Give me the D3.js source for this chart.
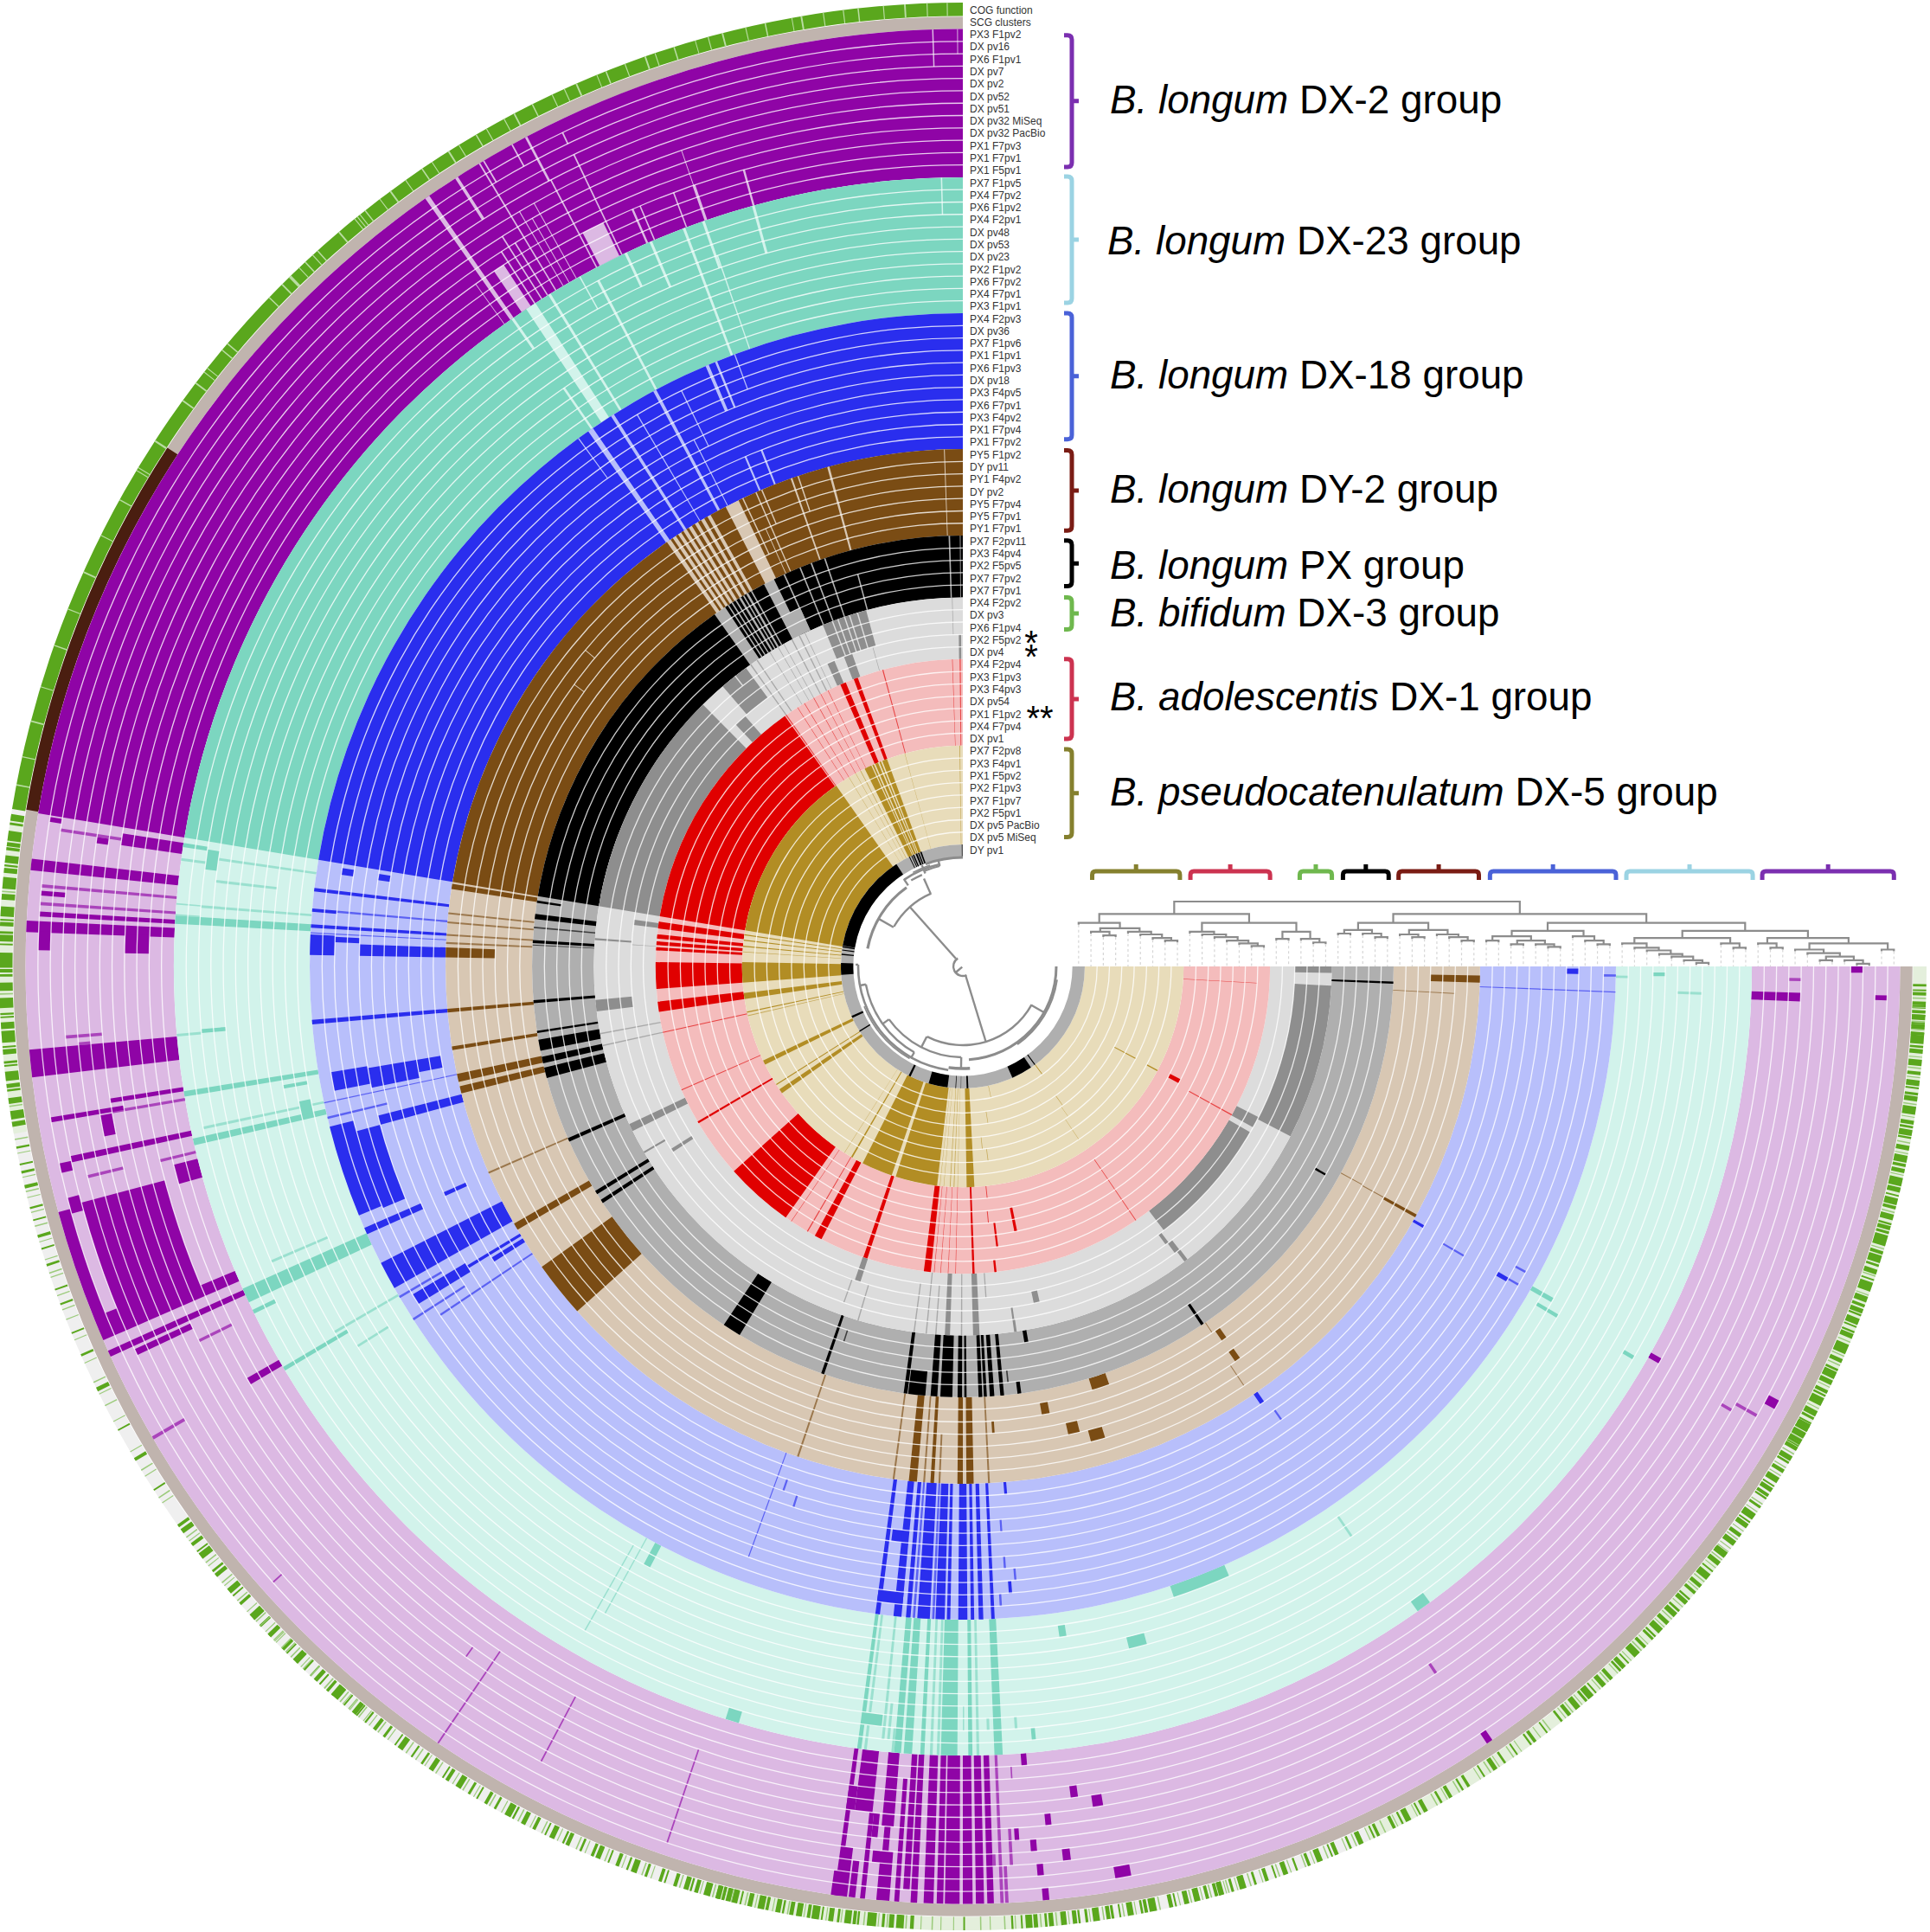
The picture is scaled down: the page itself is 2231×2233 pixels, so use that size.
<!DOCTYPE html>
<html>
<head>
<meta charset="utf-8">
<script src="https://cdn.jsdelivr.net/npm/d3@7"></script>
<style>
  html, body { margin: 0; background: #fff; }
  text { font-family: "Liberation Sans", Arial, sans-serif; }
</style>
</head>
<body>
<div id="chart"></div>
<script>
// rows of the circular heatmap, outer to inner
const rowNames = ["PX3 F1pv2","DX pv16","PX6 F1pv1","DX pv7","DX pv2","DX pv52","DX pv51","DX pv32 MiSeq","DX pv32 PacBio","PX1 F7pv3","PX1 F7pv1","PX1 F5pv1",
  "PX7 F1pv5","PX4 F7pv2","PX6 F1pv2","PX4 F2pv1","DX pv48","DX pv53","DX pv23","PX2 F1pv2","PX6 F7pv2","PX4 F7pv1","PX3 F1pv1",
  "PX4 F2pv3","DX pv36","PX7 F1pv6","PX1 F1pv1","PX6 F1pv3","DX pv18","PX3 F4pv5","PX6 F7pv1","PX3 F4pv2","PX1 F7pv4","PX1 F7pv2",
  "PY5 F1pv2","DY pv11","PY1 F4pv2","DY pv2","PY5 F7pv4","PY5 F7pv1","PY1 F7pv1",
  "PX7 F2pv11","PX3 F4pv4","PX2 F5pv5","PX7 F7pv2","PX7 F7pv1",
  "PX4 F2pv2","DX pv3","PX6 F1pv4","PX2 F5pv2","DX pv4",
  "PX4 F2pv4","PX3 F1pv3","PX3 F4pv3","DX pv54","PX1 F1pv2","PX4 F7pv4","DX pv1",
  "PX7 F2pv8","PX3 F4pv1","PX1 F5pv2","PX2 F1pv3","PX7 F1pv7","PX2 F5pv1","DX pv5 PacBio","DX pv5 MiSeq","DY pv1"];
const ringNames = ["COG function", "SCG clusters"];

// first and last row of each colour ring
const ringFirst = [0, 12, 23, 34, 41, 46, 51, 58, 66];
const ringLast = [11, 22, 33, 40, 45, 50, 57, 65, 66];
const ringDark = ["#8f04a6", "#7cd6c0", "#2a2eee", "#7a4c14", "#000000", "#8e8e8e", "#e00000", "#b28d24", "#000000"];
const ringLight = ["#dcb9e3", "#d2f3eb", "#b8bffb", "#d8c7b3", "#afafaf", "#dcdcdc", "#f4bcbc", "#e8dcba", "#afafaf"];

// presence cells: [angle from, angle to, first row, last row], angle in degrees counter clockwise from north
const purpleDark = [[0,80.6,0,11],[80.7,81,1,1],[81.3,81.5,2,6],[81.5,81.9,5,5],[81,81.8,7,11],[83.4,84.1,0,11],[84.9,85.1,1,11],[85.3,85.6,1,2],
  [86,86.2,1,11],[86.6,86.9,1,11],[87.2,87.9,0,11],[87.8,89,1,1],[87.8,89.1,8,9],[94.4,94.6,3,5],[94.9,95.1,4,4],[95.1,96.8,0,11],
  [98.8,99.1,6,11],[99.6,99.8,6,11],[99.4,99.7,1,6],[99.8,101.2,5,5],[102,102.4,2,11],[102.3,102.9,1,1],[103.4,103.6,3,5],[103.5,103.7,9,11],
  [104.1,105.5,10,11],[104.5,105.5,1,1],[105.2,113.5,0,0],[105,113.5,2,8],[112,113.5,1,1],[112.7,113.5,9,11],[114.2,114.6,0,11],[114.8,115.2,2,6],
  [116,116.2,7,9],[119.9,120.4,9,11],[120.1,120.3,0,2],[131.7,131.8,1,1],[144.2,144.3,7,7],[145.9,146,0,8],[152,152.1,3,8],[161.3,161.4,1,8],
  [172.7,173.9,7,11],[172.1,172.7,7,8],[172.1,172.4,0,11],[171.9,172.9,0,1],[172.2,172.9,2,3],[174,174.4,5,6],[174.2,175,3,3],[173,173.4,0,2],[173.7,174,0,6],
  [174.7,175.5,0,3],[174.8,175.2,4,5],[174.6,175.4,6,11],[175.8,176.1,0,9],[176.3,176.7,1,6],[176.8,177.2,0,11],[176.3,176.7,7,11],[177.6,178.2,0,11],[178.4,178.8,0,11],
  [178.9,179.8,0,11],[180,180.6,0,11],[180.8,181.3,0,11],[181.5,181.9,0,11],[181.9,182.1,3,3],[182.3,182.5,0,11],[182.6,182.8,0,2],[183,183.2,3,5],
  [184.2,184.6,11,11],[183.4,183.5,10,10],[187.4,187.9,8,8],[188.8,189.5,7,7],[185.5,185.9,6,6],[183.4,183.7,5,5],[184.4,184.8,4,4],[186.4,186.9,3,3],
  [184.7,185.1,2,2],[189.5,190.5,1,1],[184.9,185.3,0,0],[214,214.4,0,0],[213.7,213.9,7,7],[241.4,242,1,1],[240.4,240.6,2,3],[240.3,240.7,11,11],
  [239.9,240.1,4,4],[267.6,268.2,8,11],[267.9,268.2,1,1],[269.6,270,3,3],[269,269.2,8,8]];
const purpleGaps = [[25.8,27.4,9,11],[34.7,35,0,11],[33.2,34,8,11],[31,31.1,0,11],[32.6,32.8,0,3],[30.7,30.8,0,1],[28.7,28.8,0,1],[27.7,27.85,0,3],
  [27.6,27.7,4,11],[25.6,25.7,1,1],[25.55,25.65,3,11],[23.5,23.65,9,11],[22.95,23.05,9,11],[20.45,20.55,9,11],[18.9,19.1,9,11],[15.3,15.45,9,11],[19,19.05,6,8],
  [1.8,1.88,0,2],[0.3,0.35,0,1],[29.3,29.36,5,11],[29.9,29.96,6,11],[30.4,30.46,5,11],[31.7,31.8,7,11],[32.2,32.3,6,11],[32.8,32.9,7,11],[35.5,35.55,8,11]];
const tealDark = [[0,80.6,12,22],[81,81.3,12,13],[81.2,82.7,14,14],[81.7,81.9,15,22],[82.1,82.3,12,13],[83.4,83.6,15,19],[85.4,85.5,12,13],[85.4,85.6,14,22],
  [86.2,86.3,12,13],[86.3,86.9,12,22],[94.9,95.1,12,13],[94.7,95,14,15],[99.1,99.5,12,22],[99.9,100.2,20,21],[101.9,102.1,13,22],[102.6,103.1,12,22],[101.5,102.7,21,21],
  [113,113.2,15,19],[114.1,115.2,12,22],[115.8,116.1,12,13],[120.5,120.8,12,17],[120.1,120.3,17,22],[122,122.2,18,20],[150.3,150.4,14,21],[151,151.1,16,22],
  [151.9,152.5,21,22],[162.5,163.5,12,12],[172.3,172.6,12,22],[172.8,173,12,22],[172.4,173.9,14,14],[174,174.2,13,22],[174.4,174.6,13,15],[174.8,175,12,13],
  [175,175.5,12,22],[175.7,176.3,12,22],[176.9,177.2,12,22],[177.6,177.8,12,22],[178.1,178.3,12,22],[178.4,179.6,12,22],[180.4,180.7,12,22],[181,181.2,12,22],
  [182.3,182.9,12,22],[180,180.1,14,15],[181.8,182,14,14],[183.9,184.1,14,14],[185.1,185.4,13,13],[188.2,188.8,21,21],[193.7,195.2,19,19],[198.5,203.6,22,22],
  [215.2,216.3,12,12],[214.2,214.4,20,21],[239.6,239.9,13,13],[239.4,239.7,20,21],[240.3,240.7,21,22],[269,269.2,22,22],[269.2,269.5,19,19],[267.8,268,16,17]];
const tealGaps = [[32.8,33.6,12,22],[34.7,34.9,12,14],[31.5,31.7,12,22],[29,29.1,12,14],[27.9,28.1,13,22],[25.2,25.4,12,14],[23.2,23.4,12,15],
  [20.6,20.8,12,22],[19.1,19.3,12,15],[15.3,15.5,12,15],[19,19.1,15,22],[1.5,1.6,12,14],[34.5,34.7,19,22]];
const blueDark = [[0,80.6,23,33],[81,81.6,25,25],[81,81.6,28,28],[83.1,83.4,23,33],[84.9,85.2,23,24],[84.9,85.1,25,33],[86.3,86.6,23,33],[87,87.1,23,33],
  [87.2,89,23,24],[87.9,89,27,33],[87.3,87.8,25,26],[94.7,95.1,23,33],[99.7,101,31,32],[99.7,101.6,27,30],[99.5,101.2,24,26],[102,102.1,23,33],[104.3,105.2,27,33],
  [103.3,103.5,23,27],[104.2,112.4,23,24],[105.2,112.6,25,26],[113.5,113.9,30,31],[113.6,114.2,23,27],[117,119.5,23,33],[120.8,121.8,24,28],[120.3,120.5,23,26],
  [121.1,121.4,28,33],[121.7,122.2,31,33],[122.6,122.8,23,27],[123.6,123.8,25,33],[161,161.2,31,31],[162.5,162.7,30,30],[160,160.1,25,33],[172.3,172.7,23,33],
  [172.3,174.6,24,24],[172.9,174,29,29],[173.9,174.6,23,33],[175,175.4,23,33],[175.6,175.8,23,33],[176,177.1,23,33],[177.3,177.5,23,33],[177.6,178.4,23,33],[178.6,178.9,23,33],[179.6,180.4,23,33],[180.7,181,23,33],
  [181.4,181.8,23,33],[182.5,182.8,23,33],[184.5,184.8,33,33],[183.8,184,30,30],[183.9,184.1,27,27],[184.8,185,26,26],[184.2,184.5,25,25],[183.3,183.5,24,24],
  [214.2,214.7,33,33],[215,215.2,31,31],[240.4,240.7,33,33],[239.9,240.1,29,30],[239.9,240.3,25,25],[240.1,240.3,24,24],[241.4,241.6,24,24],[269.3,269.8,26,26],
  [269.1,269.3,23,23],[267.7,267.8,23,33]];
const blueGaps = [[34.5,35,23,33],[32.3,32.6,23,33],[28,28.3,23,33],[22.9,23.2,23,26],[22.1,22.3,23,26],[20.4,20.5,23,25],[36,36.1,23,26],[30.5,30.6,24,33],
  [23,23.2,31,33],[21.2,21.4,31,33],[26,26.1,24,28],[27,27.1,28,33]];
const brownDark = [[0,25.7,34,40],[27.3,29.2,34,40],[29.6,30,34,40],[30.4,30.8,34,40],[31.2,31.6,34,40],[32,32.3,34,40],[32.7,33,34,40],[33.4,33.7,34,40],[34.1,34.4,34,40],
  [34.9,80.6,34,40],[80.8,81.4,34,40],[84,84.2,34,40],[85,85.2,34,40],[86.4,86.6,34,40],[87.3,87.5,34,40],[87.9,89,34,37],[94.7,95.1,34,40],[98.9,99.3,34,40],
  [102,102.9,34,40],[103.4,104.2,34,40],[113.4,113.6,34,40],[119.8,120.6,34,40],[125.5,131.8,34,40],[161.3,161.5,34,40],[172.2,172.4,34,40],[174,174.9,34,40],
  [175.6,175.8,34,40],[176.4,176.8,34,40],[177.3,177.5,34,37],[179.4,180,34,40],[180.4,181.2,34,40],[182.8,183,34,40],[190,191,39,39],[183.6,183.9,38,38],[197,199.3,40,40],
  [192.7,194.1,37,37],[195.1,196.8,36,36],[214.7,215.4,39,39],[214.6,215.3,37,37],[214.2,214.3,40,40],[213.8,213.9,35,36],[241,241.35,34,36],[241.2,241.3,37,38],
  [241.3,241.4,39,40],[268.2,269,34,37],[266.8,266.9,36,40]];
const brownGaps = [[14.95,15.2,34,40],[19.25,19.45,34,40],[18.5,18.65,34,36],[23.5,23.65,34,40],[22.8,22.95,34,36],[25.1,25.25,34,38],[2,2.1,34,40],[24.2,24.3,37,40],[50,50.1,36,36],[54,54.1,37,37]];
const blackDark = [[0,26,41,45],[27.5,33.5,41,45],[35.2,80.6,41,45],[81.2,81.5,41,42],[83,83.7,41,45],[84.7,84.9,41,45],[86.5,86.9,41,45],[87.1,87.2,41,45],
  [94.5,94.9,41,45],[98.6,98.9,41,45],[99.8,101.3,41,45],[102.1,103,41,45],[103.6,105,41,45],[113.5,114,41,45],[121.4,121.9,41,45],[122.8,123.3,41,45],[146.3,148.8,41,45],
  [160.8,161.2,41,45],[162.3,162.5,44,44],[172.1,172.6,41,45],[172.7,175,41,42],[175.7,176.6,41,45],[177,178.6,41,45],[179.3,179.9,41,45],[180.2,180.5,41,45],
  [182.1,182.6,41,45],[182.8,183.2,41,45],[183.6,184.2,41,45],[185,185.5,41,45],[186.1,186.3,42,42],[187.3,187.8,41,41],[189.3,189.9,45,45],[213.6,214,41,42],
  [240,240.3,42,42],[267.7,268,41,45]];
const blackGaps = [[29.3,29.5,41,45],[29.9,30.2,41,45],[30.5,30.7,41,45],[31,31.3,41,45],[31.7,31.9,41,45],[32.3,32.5,41,45],[32.9,33.1,41,45],[34,34.2,41,45],
  [24.4,26.5,44,45],[1.7,1.9,41,45],[0.3,0.4,41,45],[20.5,20.7,41,45],[18.6,18.8,41,45],[22.1,22.3,41,45],[24.4,24.6,41,45],[14.9,15.1,43,45]];
const greyDark = [[44.8,80.6,46,50],[36,40.6,46,48],[41,43.2,49,50],[15.2,22.3,46,48],[19.5,21,49,50],[22.8,24.1,49,50],[26.2,26.4,46,50],[25.3,25.4,46,50],[27.5,27.7,46,50],
  [29,29.1,46,50],[30,30.1,46,50],[31.5,31.6,46,50],[33.8,34,46,50],[35,35.2,46,50],[0.3,0.7,49,50],[1.6,1.7,46,48],[15.7,15.8,49,50],[81.9,82.8,49,50],[85.6,85.9,46,48],
  [86.2,86.3,49,50],[95.2,97,46,48],[100.4,100.6,46,50],[102.3,102.5,46,50],[115.3,116.5,46,50],[120.1,120.4,46,47],[122,122.6,48,49],[161,162,49,50],[160.4,160.6,47,48],
  [163.4,163.6,46,48],[172.3,172.5,46,49],[174.2,174.4,46,50],[175.7,175.9,46,49],[177.2,178,46,50],[179.7,179.9,46,50],[181.6,182.6,46,50],[183.9,184.1,49,50],[188,188.3,47,47],
  [188,188.4,46,46],[191.9,192.9,48,48],[217.3,240,49,50],[241,243,49,50],[242.6,267,46,48],[269,270,46,48],[216.1,216.7,48,48],[216.5,217.4,47,47],[216.9,217.5,46,46]];
const greyGaps = [[16.5,16.7,46,48],[17.8,18,46,48],[18.6,18.8,46,48],[19.7,19.9,46,48],[20.6,20.8,46,48],[38,38.2,46,46]];
const redDark = [[35.4,80.6,51,57],[81.6,82.9,51,57],[84,84.8,51,57],[85.3,86,51,57],[86.4,87,51,57],[89.2,94.2,51,57],[96.6,98.5,51,57],[102.3,102.5,51,57],[113.6,113.8,51,57],
  [120.3,120.7,51,57],[131.8,144.8,51,57],[146,146.1,51,57],[149.5,149.7,51,57],[151.2,152.6,51,57],[161.1,161.9,51,57],[172.7,174,51,57],[174.6,174.7,51,57],[175.8,175.9,51,57],
  [177.2,177.3,51,57],[178.6,178.7,51,57],[181.8,182.2,51,57],[185.9,186.3,51,51],[186.8,187.2,53,54],[191,191.6,54,55],[185.9,186.1,57,57],[185.6,185.8,55,55],
  [214.2,214.35,51,56],[241,241.2,51,54],[241.6,242.6,56,56],[266.7,266.8,52,57],[22.4,23.5,51,57],[20,20.8,51,57],[15,15.2,51,57],[1.9,2,51,57],[0.4,0.6,51,57],
  [35,35.2,51,57],[26,26.1,51,57],[27.5,27.6,51,57],[29,29.1,51,57],[31,31.1,51,57],[32.5,32.6,51,57]];
const goldDark = [[35,80.6,58,65],[81.6,81.9,58,65],[83,83.3,58,65],[84.6,84.9,58,65],[86.1,86.3,58,65],[88.9,94.2,58,65],[96.9,98.5,58,65],[101.8,102.1,58,65],[102.8,103,58,65],
  [115.2,116.4,58,65],[122.2,122.5,58,65],[123.8,125,58,61],[123.7,125,62,65],[147.5,147.6,58,65],[149.6,150,58,65],[153,161.2,58,65],[162.3,173.3,58,65],[174,174.1,58,65],
  [175,175.1,58,65],[176.6,176.8,58,65],[177.6,177.8,58,65],[178.6,178.7,58,65],[181,183,58,65],[192,192.2,65,65],[189,189.2,63,63],[187.3,187.5,60,60],[186,186.2,61,61],
  [216.2,216.5,65,65],[215.6,215.8,62,62],[215,215.1,61,61],[213.8,213.9,59,60],[241.8,242.1,60,61],[241.7,242,58,58],[20.1,21.4,58,65],[21.8,22.2,58,65],[22.6,23.4,58,65],[23.8,24.2,58,65],
  [24.5,26.4,58,65],[27.5,27.7,58,65],[29,29.1,58,65],[31,31.1,58,65],[15.2,15.3,58,65],[0.7,0.9,58,65]];
const dyDark = [[33,80.2,66,66],[80.4,81,66,66],[82,82.5,66,66],[84,84.6,66,66],[88.4,94,66,66],[114,115,66,66],[121.8,122.4,66,66],[153.6,154.6,66,66],[163.7,172.8,66,66],
  [176.5,176.8,66,66],[179,179.2,66,66],[181.8,182.6,66,66],[204,214,66,66],[216,216.5,66,66],[19.8,20.5,66,66],[21,21.6,66,66],[22,22.8,66,66],[23.6,24.2,66,66],[24.6,25,66,66],
  [25.8,26.2,66,66],[0.2,0.5,66,66]];
const darkCells = [purpleDark, tealDark, blueDark, brownDark, blackDark, greyDark, redDark, goldDark, dyDark];
const gapCells = [purpleGaps, tealGaps, blueGaps, brownGaps, blackGaps, greyGaps, [], [], []];

// SCG ring, dark part
const scgDark = [[56.9,80.5]];
// COG ring: thin pale gaps in the solid stretch [angle, width]
const cogGaps = [[0.9,0.06],[2.1,0.06],[3.4,0.1],[4.7,0.06],[6.2,0.08],[7.1,0.06],[8.3,0.06],[9.6,0.1],[10.2,0.05],[11.8,0.08],[13,0.06],[14.4,0.1],[15.3,0.06],[16.1,0.05],[17.4,0.08],
  [18.6,0.06],[19.2,0.1],[20.5,0.06],[21.7,0.08],[22.3,0.05],[23.6,0.1],[24.4,0.06],[25.2,0.06],[26.5,0.08],[27.7,0.1],[28.4,0.06],[29.6,0.06],[30.3,0.08],[31.5,0.06],[32.2,0.1],[33.4,0.06],[34.1,0.08],
  [35.3,0.06],[36.4,0.1],[37.2,0.06],[38.3,0.08],[38.7,0.06],[38.9,0.06],[39.1,0.06],[40.3,0.1],[42,0.08],[42.4,0.06],[43,0.08],[43.5,0.06],[44.2,0.18],[44.9,0.1],[46,0.08],
  [49.7,0.08],[50.2,0.08],[51.6,0.06],[51.9,0.06],[52.7,0.1],[54,0.1],[56.9,0.12],[58.8,0.06],[59,0.06],[61,0.08],[63.4,0.06],[65.8,0.1],[68.2,0.06],[70.5,0.08],[73.1,0.06],[75.2,0.1],[77.4,0.06],[79.1,0.08]];
// COG ring: bars after the solid stretch, alternating gap and bar widths in 1/100 degree, one list per stretch
const cogStarts = [80.7, 100, 125, 165, 195, 240, 162.4, 192.3, 232, 265.8, 132];
const cogRuns = [
  [20,40,10,15,35,60,8,25,6,18,30,45,10,12,8,30,25,70,12,8,10,35,40,60,15,10,8,25,30,15,6,40,12,10,45,90,8,20,10,15,35,50,14,8,20,60,30,12,8,10,25,40,12,70,20,10,10,30,40,15,8,10,30,55,18,25,8,12,40,35,10,8,25,50,14,30],
  [30,8,40,12,25,6,60,10,35,15,20,6,45,20,15,8,30,6,55,12,18,6,40,10,28,8,50,18,22,6,35,10,60,6,24,14,38,8,20,6,70,10,30,6,45,12,25,8,55,6,80,10,35,6,90,14,40,6,120,8,30,25,15,6,70,8,100,6,50,10,140,6,40,20,60,8,35,6,90,10,45,8,30,6],
  [40,18,15,30,25,8,20,6,14,22,35,10,10,40,25,8,18,6,30,14,12,25,40,8,16,6,22,35,14,10,30,8,12,18,50,6,20,40,12,8,25,16,35,6,15,28,20,8,12,6,45,20,18,10,24,8,14,32,30,6,18,12,40,10,22,26,16,8,30,6,12,18,28,45,15,8,22,10,35,6,14,30,18,8,40,12,20,6,26,22,12,8,32,16,18,6,45,10,15,35,22,8,30,12,
   20,8,32,14,12,6,26,30,16,8,40,10,14,22,25,6,18,35,12,8,30,16,22,6,14,10,45,20,12,8,26,14,35,6,18,40,10,12,24,8,16,28,30,6,12,20,38,8,14,10,22,32,18,6,28,12,10,24,42,8,16,14,20,6,34,18,12,30,26,8,14,10,40,22,16,6,24,12,18,36,30,8,12,16,22,6,44,20,14,10],
  [12,30,8,14,18,22,6,35,14,10,20,8,10,28,16,6,12,40,8,18,22,6,14,30,10,12,18,8,6,25,16,35,10,6,14,20,8,45,12,10,18,6,10,30,22,14,8,6,16,40,10,20,6,12,25,8,14,55,10,6,18,16,12,8,6,30,14,45,10,8,20,22,40,6,60,8,45,6,70,6,55,10,90,8,50,6,80,8,35,12,10,6,30,10,18,40,8,25,14,8,20,14,
   10,28,14,8,22,34,12,6,18,26,8,12,30,16,10,6,14,40,20,8,12,24,6,16,32,10,14,8,18,36,12,6,26,14,8,20,10,44,16,8],
  [18,10,14,28,30,8,12,16,20,6,10,40,25,8,18,14,35,6,12,22,40,10,14,8,20,30,16,6,28,12,45,8,10,18,22,6,14,35,30,8,18,10,12,24,50,6,16,14,26,8,12,30,40,6,20,10,14,18,32,8,45,20,10,6,24,12,16,35,38,6,12,10,20,26,60,8,18,14,30,6,10,22,45,8,14,12,26,18,70,6,20,10,35,8,16,28,12,6,30,14,50,8,18,10,24,6,60,12,14,20,28,6,40,10,16,8,75,14,20,6,
   14,24,10,8,18,34,12,6,22,16,8,40,14,10,26,6,12,30,16,8,10,22,36,6,12,14,8,28,18,10,14,6,24,44,10,8,16,20,12,6,30,16,8,12,20,38,10,6,14,26,18,8,12,32,10,14,22,6,16,28,8,12,34,20,14,6,10,24,18,8,12,42,16,10,20,6,14,30,10,8,24,18,12,6],
  [10,30,14,8,18,25,6,40,12,10,20,15,8,35,14,6,16,50,10,12,8,22,18,6,12,30,10,45,6,14,20,8,12,25,16,6,10,60,14,8,18,30,6,12,22,10,8,40,16,12,6,28,10,18,14,35,8,6,20,55,12,10,16,8,6,30,18,14,10,45,8,20,12,6,14,65,10,16,8,25,6,12,18,35,10,8,14,20,6,40,12,10,16,30,8,50,14,6,10,25,
   12,18,8,42,10,6,16,28,14,8,20,12,6,36,10,14,8,24,18,6,12,48,10,8,14,30,6,16,22,10,8,34,14,6,12,20,16,8,10,38,12,6,18,26,8,14,10,52,6,12,16,24,8,10,14,32,18,6,12,20],
  [10,22,14,8,20,30,8,12,16,24,10,6,18,40,12,8,14,26,10,18,8,12,20,6],
  [8,24,12,10,18,6,22,30,10,8,14,36,12,6,16,20,10,8,24,14,8,28,12,6],
  [14,20,8,12,26,6,18,34,10,8,12,24,16,6,20,30,8,10,14,42,12,6,22,16,10,8,30,12,6,20,14,28,8,10,18,36,12,6,16,24,10,8,22,14,6,32,12,8,18,26,10,6,14,20,8,34,16,10,12,24],
  [8,16,12,6,20,14,10,8,26,12,8,18,14,6,10,22,16,8,12,20,6,10,18,14],
  [60,10,45,6,70,14,35,6,50,8,28,6,85,12,40,6,55,8,65,10,30,6,48,14,75,6,38,8,52,10,44,6]
];
const cogPale = [[81,100],[165,186],[205,232],[240,270]];

// gene cluster tree in the middle of the rings: arcs [radius, angle from, angle to, line width], spokes [angle, radius from, radius to]
const treeArcs = [[11,31.7,203.6,2.4],[92,23.4,60,2.4],[112,35.5,79.4,3.2],[91,153,241,2.4],[108,183.7,270,3],[110,215,262,2],[105,125.6,179,2.4],[118,172,184,3.4],[114,100.5,150.5,2.4],
  [121,89,172,2.6],[123,112,150,1.6],[116,24,31,2.4],[121,12.4,34,2.6],[126,0,20,3],[119,13,22,2.2],[123,18,28,1.6]];
const treeSpokes = [[41.7,12,92],[197,11,91],[23.9,92,111],[60.5,92,112],[240.5,91,108],[152.8,91,105],[179,105,118],[125.6,105,114],[100.5,114,121],[89,121,124],[150.5,114,122],[34,113,122],[13,119,126],[22,116,126],[130,1,10.5]];

// dendrogram over the rows: [height, left, right], leaves count from the inner ring
const rowTree = [73,
  [59,
    [49, 0, [43, [39, 1, [35, 2, 3]], [39, 4, [36, 5, [32, 6, [29, 7, 8]]]]]],
    [49, [39, 9, [36, 10, [33, 11, [29, 12, [26, 13, [23, 14, 15]]]]]],
         [39, [31, 16, 17], [31, 18, [27, 19, 20]]]]],
  [59,
    [49, [41, [37, 21, 22], [37, 23, [33, 24, 25]]],
         [41, [36, 26, [33, 27, 28]], [36, 29, [33, 30, [29, 31, 32]]]]],
    [49,
      [40, [34, [29, 33, 34], [29, [25, 35, 36], [25, 37, [22, 38, 39]]]],
           [34, 40, [29, 41, [25, 42, 43]]]],
      [40,
        [32, [26, 44, [21, 45, [18, 46, [14, 47, [11, 48, [7, 49, [4, 50, 51]]]]]]],
             [26, 52, [21, 53, 54]]],
        [32, [26, 55, [21, 56, 57]],
             [26, [19, 58, [15, 59, [11, [7, 60, 61], [7, 62, [3, 63, 64]]]]], [19, 65, 66]]]]]]];

// group brackets in row units, shown both beside the labels and above the dendrogram
const bracketFrom = [0, 11.43, 22.5, 33.6, 40.9, 45.5, 50.5, 57.8];
const bracketTo = [10.66, 21.66, 32.7, 40.1, 44.6, 48.1, 56.95, 64.9];
const bracketColors = ["#7b2fb0", "#9bd3e3", "#4a62d8", "#7a1c14", "#000000", "#6fb84e", "#cc3350", "#85802e"];

const groupSpecies = ["B. longum", "B. longum", "B. longum", "B. longum", "B. longum", "B. bifidum", "B. adolescentis", "B. pseudocatenulatum"];
const groupNames = [" DX-2 group", " DX-23 group", " DX-18 group", " DY-2 group", " PX group", " DX-3 group", " DX-1 group", " DX-5 group"];
const groupX = [1283, 1280, 1283, 1283, 1283, 1283, 1283, 1283];
const groupY = [131, 294, 449, 581, 669, 724, 821, 931];

const width = 2231, height = 2233;
const cx = 1113, cy = 1117;

const svg = d3.select("#chart").append("svg")
  .attr("width", width)
  .attr("height", height)
  .style("display", "block");

const rings = svg.append("g").attr("transform", `translate(${cx},${cy})`);

// scales
const angle = d3.scaleLinear().domain([0, 270]).range([0, -1.5 * Math.PI]);
const radius = d3.scaleLinear().domain([0, 67]).range([1083.44, 126.68]); // outer edge of a row
const rowY = i => cy - radius(i + 0.5);
const rowX = i => cx + radius(i + 0.5);
const arc = d3.arc();

function cell(g, a0, a1, r0, r1, fill, opacity) {
  g.append("path")
    .attr("d", arc({innerRadius: r1, outerRadius: r0, startAngle: angle(a1), endAngle: angle(a0)}))
    .attr("fill", fill)
    .attr("fill-opacity", opacity || 1);
}

// COG ring
const cogOut = radius(-2) + 2, cogIn = radius(-1) + 0.8;
cell(rings, 80.6, 270, cogOut, cogIn, "#efefef");
cogPale.forEach(d => cell(rings, d[0], d[1], cogOut, cogIn, "#e4efdc"));
cell(rings, 0, 80.6, cogOut, cogIn, "#5aa71d");
cogGaps.forEach(d => cell(rings, d[0], d[0] + d[1], cogOut, cogIn, "#b9dca2"));
cogRuns.forEach((runs, s) => {
  let a = cogStarts[s];
  runs.forEach((w, i) => {
    if (i % 2 === 1) cell(rings, a, a + w / 100, cogOut, cogIn, w < 10 ? "#9ccb7c" : "#5aa71d");
    a += w / 100;
  });
});

// SCG ring
cell(rings, 0, 270, radius(-1), radius(0), "#c0b4ae");
scgDark.forEach(d => cell(rings, d[0], d[1], radius(-1), radius(0), "#4a1e10"));

// heatmap rings: light base, dark cells, then the pale gaps in the dark stretch
ringFirst.forEach((first, k) => {
  const last = ringLast[k];
  const g = rings.append("g");
  cell(g, 0, 270, radius(first), radius(last + 1), ringLight[k]);
  // hairlines read fainter in the reference
  darkCells[k].forEach(d => cell(g, d[0], d[1], radius(d[2]), radius(d[3] + 1), ringDark[k], d[1] - d[0] < 0.25 ? 0.65 : 1));
  gapCells[k].forEach(d => cell(g, d[0], d[1], radius(d[2]), radius(d[3] + 1), ringLight[k]));
});

// white lines between rows, none at ring borders
d3.range(1, 67).filter(i => !ringFirst.includes(i)).forEach(i => {
  rings.append("path")
    .attr("d", arc({innerRadius: radius(i) - 0.65, outerRadius: radius(i) + 0.65, startAngle: angle(270), endAngle: angle(0)}))
    .attr("fill", "#fff")
    .attr("fill-opacity", 0.8);
});

// tree in the centre
const treeColor = "#8c8c8c";
treeArcs.forEach(d => {
  rings.append("path")
    .attr("d", arc({innerRadius: d[0] - d[3] / 2, outerRadius: d[0] + d[3] / 2, startAngle: angle(d[2]), endAngle: angle(d[1])}))
    .attr("fill", treeColor);
});
treeSpokes.forEach(d => {
  const a = angle(d[0]);
  rings.append("line")
    .attr("x1", d[1] * Math.sin(a)).attr("y1", -d[1] * Math.cos(a))
    .attr("x2", d[2] * Math.sin(a)).attr("y2", -d[2] * Math.cos(a))
    .attr("stroke", treeColor).attr("stroke-width", 2.4);
});

// row labels
const labels = svg.append("g").attr("font-size", 12).attr("fill", "#333");
ringNames.concat(rowNames).forEach((name, i) => {
  labels.append("text")
    .attr("x", 1121)
    .attr("y", rowY(i - 2) - 0.5)
    .attr("dominant-baseline", "central")
    .text(name);
});

// asterisks beside the rows they mark, the two stacked ones share a text since they nearly touch
const stars = svg.append("text").attr("text-anchor", "middle").attr("font-size", 40);
stars.append("tspan").attr("x", 1192).attr("y", rowY(49) + 17).text("*");
stars.append("tspan").attr("x", 1192).attr("y", rowY(50) + 18).text("*");
svg.append("text").attr("x", 1202).attr("y", rowY(55) + 18)
  .attr("text-anchor", "middle").attr("font-size", 40).text("**");

// brackets
bracketFrom.forEach((from, i) => {
  const y0 = rowY(from), y1 = rowY(bracketTo[i]);
  const x0 = rowX(bracketTo[i]), x1 = rowX(from);
  svg.append("path")
    .attr("d", `M1230,${y0}H1234Q1239,${y0} 1239,${y0 + 5}V${y1 - 5}Q1239,${y1} 1234,${y1}H1230M1239,${(y0 + y1) / 2}H1247`)
    .attr("fill", "none").attr("stroke", bracketColors[i]).attr("stroke-width", 5);
  svg.append("path")
    .attr("d", `M${x0},1017V1011Q${x0},1007 ${x0 + 4},1007H${x1 - 4}Q${x1},1007 ${x1},1011V1017M${(x0 + x1) / 2},1007V999`)
    .attr("fill", "none").attr("stroke", bracketColors[i]).attr("stroke-width", 5);
});

// group names
groupNames.forEach((name, i) => {
  const t = svg.append("text")
    .attr("x", groupX[i])
    .attr("y", groupY[i])
    .attr("font-size", 45.8)
    .attr("fill", "#000");
  t.append("tspan").attr("font-style", "italic").text(groupSpecies[i]);
  t.append("tspan").style("white-space", "pre").text(name);
});

// dendrogram over the rows, leaves dropped to the ring top with dashed lines
const baseY = cy;
const heightY = d3.scaleLinear().domain([0, 73]).range([baseY, 1042]);
const leafX = k => rowX(66 - k);
const root = d3.hierarchy(rowTree, d => Array.isArray(d) ? d.slice(1) : null);
root.eachAfter(n => {
  if (n.children) {
    n.x = d3.mean(n.children, c => c.x);
    n.h = n.data[0];
  } else {
    n.x = leafX(n.data);
    n.h = n.parent.data[0];
  }
});
const dendro = svg.append("g").attr("fill", "none");
root.descendants().forEach(n => {
  if (n.children) {
    const [a, b] = n.children;
    dendro.append("path")
      .attr("d", `M${a.x},${heightY(a.children ? a.h : a.h - 2)}V${heightY(n.h)}H${b.x}V${heightY(b.children ? b.h : b.h - 2)}`)
      .attr("stroke", treeColor).attr("stroke-width", 2.2);
  } else {
    dendro.append("line")
      .attr("x1", n.x).attr("x2", n.x)
      .attr("y1", heightY(n.h - 2)).attr("y2", baseY)
      .attr("stroke", "#d6d6d6").attr("stroke-width", 1.2).attr("stroke-dasharray", "3,3");
  }
});
</script>
</body>
</html>
